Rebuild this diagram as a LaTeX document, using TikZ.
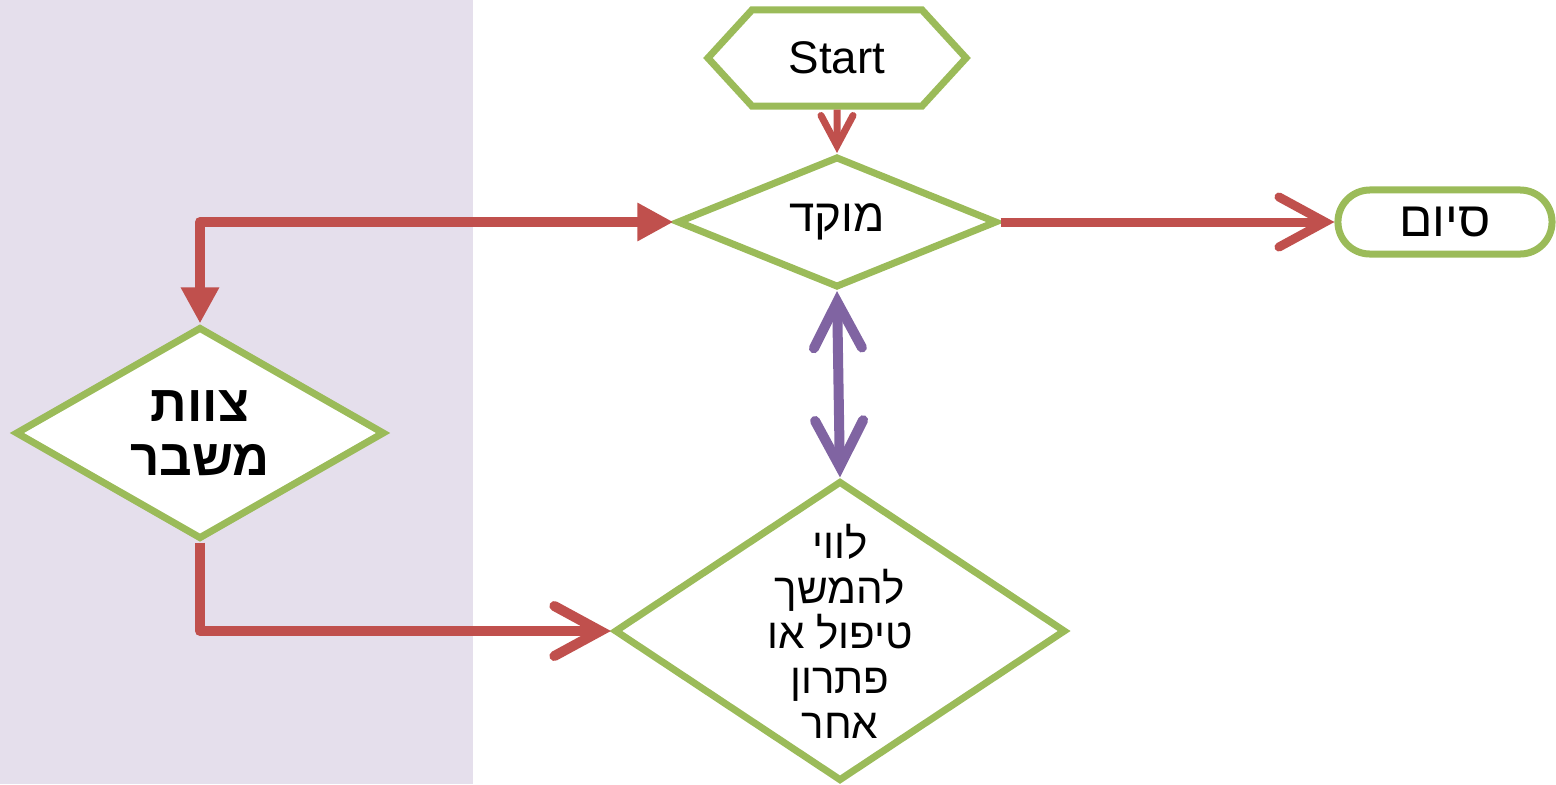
\documentclass[tikz,border=0pt]{standalone}
\usepackage{fontspec}
\setmainfont{Liberation Sans}
\newfontfamily\hebfont[Script=Hebrew]{Liberation Sans}
\TeXXeTstate=1
\usetikzlibrary{shapes.geometric,shapes.symbols,arrows.meta}
\definecolor{boxgreen}{HTML}{9BBB59}
\definecolor{linkred}{HTML}{C0504D}
\definecolor{linkpurple}{HTML}{8064A2}
\definecolor{lanebg}{HTML}{E5DFEC}
\begin{document}
\begin{tikzpicture}[x=0.01cm,y=-0.01cm,
    box/.style={draw=boxgreen, line width=0.7mm, fill=white, inner sep=0pt, text=black, font=\fontsize{13pt}{15pt}\selectfont},
    decision/.style={box, diamond},
    redlink/.style={draw=linkred, line width=1mm, line join=round},
    purplelink/.style={draw=linkpurple, line width=1mm},
    openhead/.style={-{Straight Barb[length=4.6mm,width=5mm,line cap=round]}}]
    \useasboundingbox (0,0) rectangle (1556,784);
    \fill[lanebg] (0,0) rectangle (473,784);

    \node[box, shape=signal, signal to=east and west, signal pointer angle=95, minimum width=2.58cm, minimum height=0.96cm] (start) at (837,58) {Start};
    \node[decision, aspect=2.4, minimum width=3.2cm, minimum height=1.31cm] (mokad) at (837,222) {\hebfont\beginR מוקד\endR};
    \node[box, rounded corners=0.32cm, minimum width=2.14cm, minimum height=0.64cm, font=\fontsize{14pt}{16pt}\selectfont] (siyum) at (1445,222) {\hebfont\beginR סיום\endR};
    \node[decision, aspect=1.74, minimum width=3.69cm, minimum height=2.12cm, align=center, font=\fontsize{14.5pt}{15.5pt}\selectfont\bfseries] (tsevet) at (200,433) {\hebfont\beginR צוות\endR\\\hebfont\beginR משבר\endR};
    \node[decision, aspect=1.5, inner sep=-0.5cm, minimum width=4.51cm, minimum height=3cm, align=center, font=\fontsize{12pt}{12.8pt}\selectfont] (levui) at (840,631) {\hebfont\beginR לווי\endR\\\hebfont\beginR להמשך\endR\\\hebfont\beginR טיפול או\endR\\\hebfont\beginR פתרון\endR\\\hebfont\beginR אחר\endR};

    \draw[redlink, line width=0.7mm, -{Straight Barb[length=3mm,width=3.2mm,line cap=round]}] (start) -- (mokad);
    \draw[redlink, line width=0.9mm, openhead] (mokad) -- (siyum);
    \draw[redlink, {Triangle[length=3.6mm,width=3.6mm]}-{Triangle[length=3.6mm,width=3.6mm]}] (tsevet.north) |- (mokad.west);
    \draw[redlink, openhead] (tsevet.south) |- (levui.west);
    \draw[purplelink, {Straight Barb[length=4.6mm,width=4.8mm,line cap=round]}-{Straight Barb[length=4.6mm,width=4.8mm,line cap=round]}] (mokad.south) -- (levui.north);
\end{tikzpicture}
\end{document}
